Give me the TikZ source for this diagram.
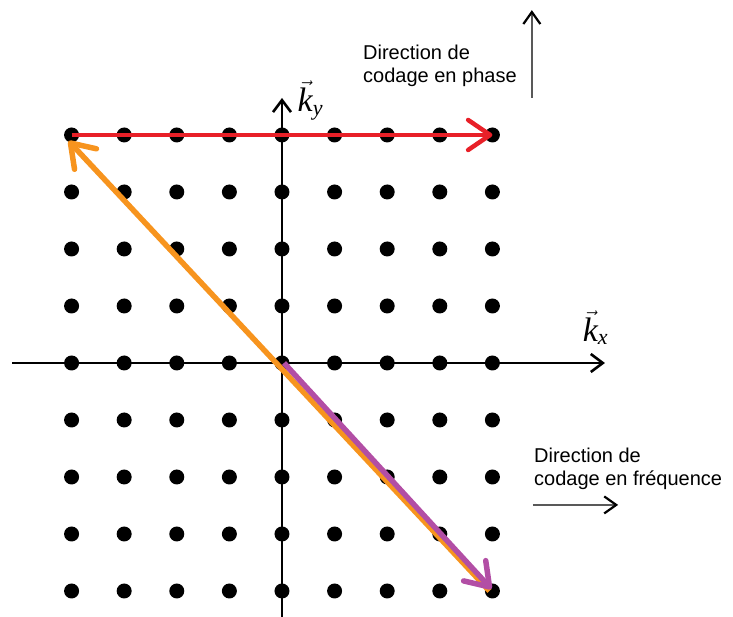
\documentclass[tikz,border=0pt]{standalone}
\usepackage{fontspec}
\newfontfamily\labelfont{Liberation Sans}
\newfontfamily\kfont{Liberation Serif}
\newcommand{\kvec}[1]{$\vec{\hbox{\kfont\itshape k}}_{\hbox{\fontsize{22}{22}\kfont\itshape #1}}$}
\usetikzlibrary{arrows.meta}
\definecolor{arrred}{RGB}{232,32,40}
\definecolor{arrorange}{RGB}{247,148,30}
\definecolor{arrpurple}{RGB}{178,78,165}
\begin{document}
\begin{tikzpicture}[x=52.6pt, y=57pt,
    gridpt/.style={circle, fill=black, inner sep=0pt, minimum size=15pt},
    axis/.style={line width=2.6pt, -{Straight Barb[length=12pt,width=18pt]}},
    bigarr/.style={line width=5.5pt, -{Straight Barb[round,length=22pt,width=30pt]}},
    dirarr/.style={gray!70!black, line width=1.3pt, -{Straight Barb[color=black,line width=2.2pt,length=12pt,width=17pt]}},
    dirtext/.style={font=\labelfont\fontsize{20}{23}\selectfont, align=left, anchor=north west, inner sep=0pt},
    klabel/.style={font=\fontsize{34}{36}\selectfont, inner sep=0pt}]
    \useasboundingbox (-5.361,-4.456) rectangle (8.574,6.368);
    \coordinate (xl) at (-5.13,0);
    \coordinate (xr) at (6.14,0);
    \coordinate (yb) at (0,-4.456);
    \coordinate (yt) at (0,4.65);
    \draw[axis] (xl) -- (xr);
    \draw[axis] (yb) -- (yt);
    \foreach \i in {-4,...,4}
        \foreach \j in {-4,...,4}
            \node[gridpt] (g\i\j) at (\i,\j) {};
    \node[klabel] (ky) at (0.54,4.6) {\kvec{y}};
    \node[klabel] (kx) at (5.96,0.62) {\kvec{x}};
    \draw[bigarr, arrred, line width=4.5pt] (g-44.center) -- (g44.center);
    \draw[bigarr, arrorange] ([xshift=-3pt]g4-4.center) -- ([xshift=-3pt,yshift=-6pt]g-44.center);
    \draw[bigarr, arrpurple] ([xshift=2pt]g00.center) -- ([shift={(-1pt,2pt)}]g4-4.center);
    \node[dirtext] (phase) at (1.54,5.58) {Direction de\\codage en phase};
    \node[dirtext] (freq) at (4.79,-1.49) {Direction de\\codage en fréquence};
    \coordinate (phA) at (4.75,4.65);
    \coordinate (phB) at (4.75,6.19);
    \coordinate (frA) at (4.77,-2.49);
    \coordinate (frB) at (6.39,-2.49);
    \draw[dirarr] (phA) -- (phB);
    \draw[dirarr] (frA) -- (frB);
\end{tikzpicture}
\end{document}
